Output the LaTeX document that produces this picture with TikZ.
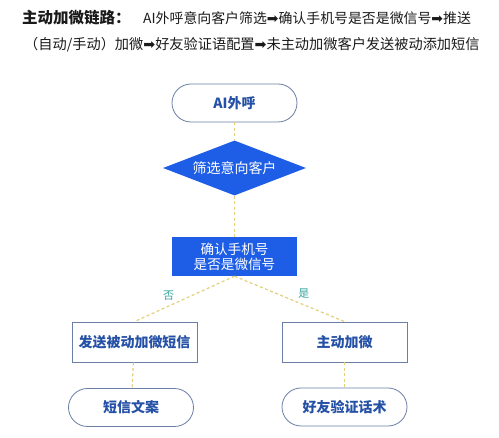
\documentclass[tikz,border=0pt]{standalone}
\usepackage{fontspec}
\setmainfont{Noto Sans CJK SC}
\newfontfamily\arrowfont{DejaVu Sans}
\usetikzlibrary{shapes.geometric}
\definecolor{txtblue}{HTML}{2450A6}
\definecolor{edgegray}{HTML}{6A7EA6}
\definecolor{fillblue}{HTML}{1E5EE6}
\definecolor{dashy}{HTML}{E4CF7A}
\definecolor{lblteal}{HTML}{3AA6A0}
\definecolor{titlec}{HTML}{1A1A1A}
\tikzset{
  stadium/.style={draw=edgegray, line width=0.8pt, rounded corners=19pt, minimum width=125pt, minimum height=38pt, text=txtblue, font=\fontsize{14}{16}\selectfont\bfseries, fill=white},
  whitebox/.style={draw=edgegray, line width=0.8pt, minimum width=125pt, minimum height=40pt, text=txtblue, font=\fontsize{14}{16}\selectfont\bfseries, fill=white},
  bluebox/.style={fill=fillblue, minimum width=125pt, minimum height=39pt, text=white, font=\fontsize{13.6}{15}\selectfont, align=center, inner sep=0pt},
  bluediamond/.style={diamond, fill=fillblue, minimum width=143pt, minimum height=55pt, inner sep=0pt, aspect=2.6, text=white, font=\fontsize{14}{16}\selectfont},
  flowline/.style={draw=dashy, line width=1.2pt, dash pattern=on 3pt off 2.5pt},
  yesno/.style={text=lblteal, font=\fontsize{11}{13}\selectfont},
  titletext/.style={anchor=west, inner sep=0pt, text=titlec}
}
\begin{document}
\begin{tikzpicture}[x=1pt,y=-1pt]
\useasboundingbox[fill=white] (0,0) rectangle (499,438);
% title
\node[titletext, font=\fontsize{15.5}{17}\selectfont\bfseries] (t1) at (22,18) {主动加微链路：};
\node[titletext, font=\fontsize{13.9}{16}\selectfont] (t2) at (143,18) {AI外呼意向客户筛选{\arrowfont ➡}确认手机号是否是微信号{\arrowfont ➡}推送};
\node[titletext, font=\fontsize{14.2}{16}\selectfont] (t3) at (24,45) {（自动/手动）加微{\arrowfont ➡}好友验证语配置{\arrowfont ➡}未主动加微客户发送被动添加短信};
% nodes
\node[stadium] (ai) at (234.5,103) {AI外呼};
\node[bluediamond] (filter) at (234.5,168) {筛选意向客户};
\node[bluebox] (check) at (234.5,256.5) {确认手机号\\是否是微信号};
\node[whitebox] (passive) at (134.5,342) {发送被动加微短信};
\node[whitebox] (active) at (344.5,342) {主动加微};
\node[stadium] (sms) at (131,407.5) {短信文案};
\node[stadium] (verify) at (344.5,407) {好友验证话术};
% connectors
\draw[flowline] (ai) -- (filter);
\draw[flowline] (filter) -- (check);
\draw[flowline] (check.south) -- node[yesno, pos=0.66, above=2pt] (no) {否} (passive.north);
\draw[flowline] (check.south) -- node[yesno, pos=0.63, above=2pt] (yes) {是} (active.north);
\draw[flowline] (passive) -- (sms);
\draw[flowline] (active) -- (verify);
\end{tikzpicture}
\end{document}
